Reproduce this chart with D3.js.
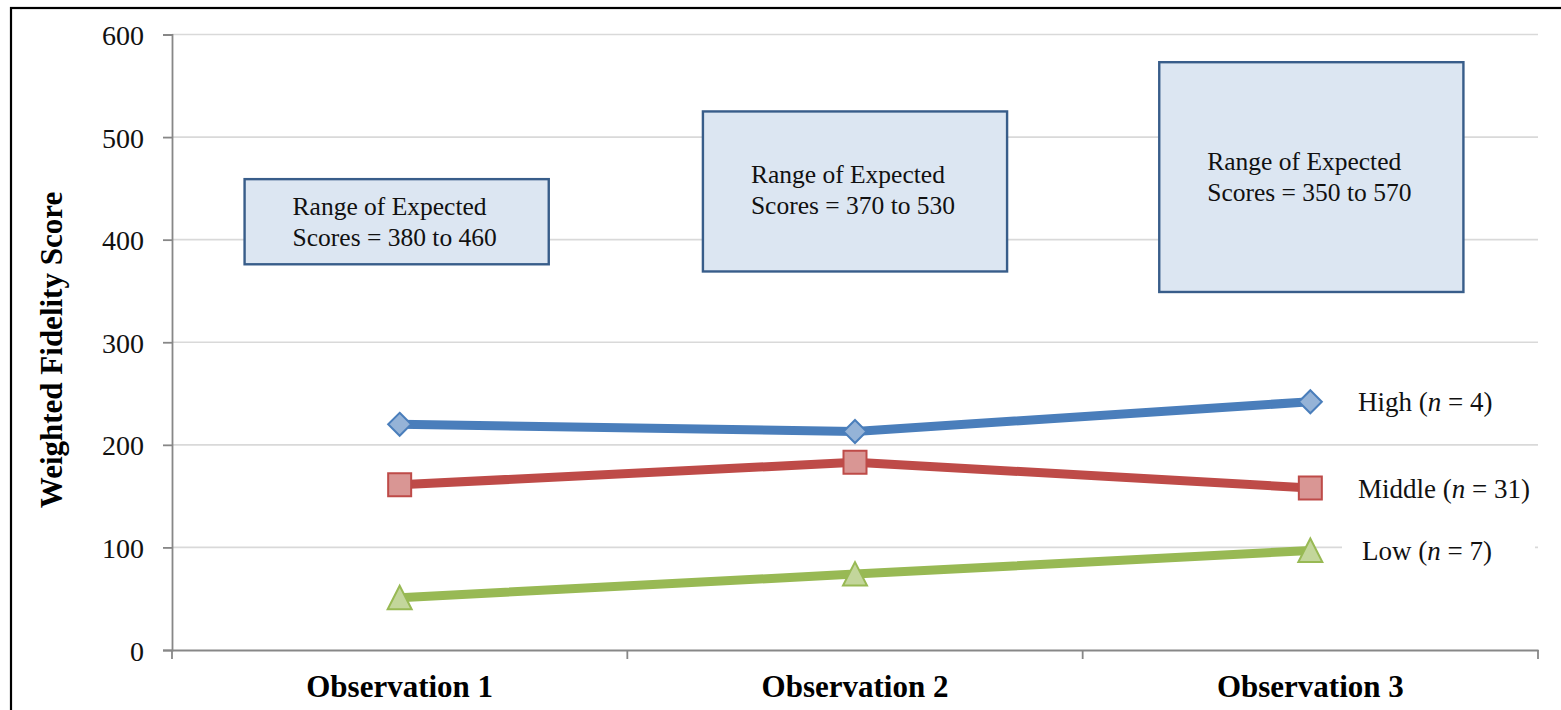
<!DOCTYPE html>
<html>
<head>
<meta charset="utf-8">
<script src="https://cdn.jsdelivr.net/npm/d3@7"></script>
<style>
  html, body { margin: 0; padding: 0; background: #fff; }
  svg { display: block; }
</style>
</head>
<body>
<svg id="chart" width="1561" height="710"></svg>
<script>
// ---- data ----
const categories = ["Observation 1", "Observation 2", "Observation 3"];
const seriesNames = ["High", "Middle", "Low"];
const seriesN = [4, 31, 7];
const highValues = [220, 213, 242];
const middleValues = [161, 183, 158];
const lowValues = [51, 74, 97];
const yTicks = [0, 100, 200, 300, 400, 500, 600];
// expected range (label text)
const expectedLow = [380, 370, 350];
const expectedHigh = [460, 530, 570];
// drawn box extents (in score units)
const boxBottom = [376, 369, 349];
const boxTop = [459, 525, 573];

// ---- layout / style ----
const plot = { left: 172, right: 1538, top: 34.5, bottom: 650 };
const colors = {
  High:   { line: "#4a7ebb", fill: "#95b3d7" },
  Middle: { line: "#be4b48", fill: "#d99694" },
  Low:    { line: "#98b954", fill: "#c3d69b" }
};
const boxTextOffsets = [36, 72, 108];
const boxShift = [-3, 0, 1];
const serif = "'Liberation Serif', 'Times New Roman', serif";

const svg = d3.select("#chart");

// outer frame
svg.append("rect")
  .attr("x", 11).attr("y", 8).attr("width", 1600).attr("height", 800)
  .attr("fill", "#fff").attr("stroke", "#000").attr("stroke-width", 2.2);

const x = d3.scaleBand().domain(categories).range([plot.left, plot.right]).padding(0);
const y = d3.scaleLinear().domain([0, 600]).range([plot.bottom, plot.top]);

// gridlines
svg.append("g")
  .selectAll("line")
  .data(yTicks.filter(d => d > 0))
  .join("line")
  .attr("x1", plot.left).attr("x2", plot.right)
  .attr("y1", d => y(d)).attr("y2", d => y(d))
  .attr("stroke", "#d9d9d9").attr("stroke-width", 1.6);

// Y axis
const yAxis = svg.append("g")
  .attr("transform", `translate(${plot.left},0)`)
  .attr("font-family", serif)
  .call(d3.axisLeft(y).tickValues(yTicks).tickSize(9).tickPadding(19).tickFormat(d3.format("d")));
yAxis.attr("font-family", serif).attr("font-size", 28);
yAxis.select(".domain").attr("stroke", "#878787").attr("stroke-width", 1.8);
yAxis.selectAll(".tick line").attr("stroke", "#878787").attr("stroke-width", 1.8);
yAxis.selectAll(".tick text")
  .attr("font-family", serif).attr("font-size", 28).attr("fill", "#111")
  .attr("dy", "0.36em");

// X axis
const xAxis = svg.append("g")
  .attr("transform", `translate(0,${plot.bottom})`)
  .call(d3.axisBottom(x).tickSize(0).tickPadding(0));
xAxis.select(".domain").attr("stroke", "#878787").attr("stroke-width", 1.8);
xAxis.selectAll(".tick text").remove();
// category boundary ticks
const boundaries = [plot.left].concat(categories.map(c => x(c) + x.bandwidth()));
svg.append("g").selectAll("line")
  .data(boundaries).join("line")
  .attr("x1", d => d).attr("x2", d => d)
  .attr("y1", plot.bottom).attr("y2", plot.bottom + 9)
  .attr("stroke", "#878787").attr("stroke-width", 1.8);
// category labels
svg.append("g").selectAll("text")
  .data(categories).join("text")
  .attr("x", d => x(d) + x.bandwidth() / 2)
  .attr("y", 697)
  .attr("text-anchor", "middle")
  .attr("font-family", serif).attr("font-size", 31).attr("font-weight", "bold")
  .attr("fill", "#000")
  .text(d => d);

// Y axis title
svg.append("text")
  .attr("transform", `translate(62,${350}) rotate(-90)`)
  .attr("text-anchor", "middle")
  .attr("font-family", serif).attr("font-size", 31).attr("font-weight", "bold")
  .attr("fill", "#000")
  .text("Weighted Fidelity Score");

// expected-range boxes
const boxW = x.bandwidth() * 0.668;
const boxes = svg.append("g");
categories.forEach((c, i) => {
  const cx = x(c) + x.bandwidth() / 2 + boxShift[i];
  const bx = cx - boxW / 2;
  const by = y(boxTop[i]);
  boxes.append("rect")
    .attr("x", bx).attr("y", by)
    .attr("width", boxW).attr("height", y(boxBottom[i]) - y(boxTop[i]))
    .attr("fill", "#dce6f2").attr("stroke", "#385d8a").attr("stroke-width", 2.4);
  const t = boxes.append("text")
    .attr("font-family", serif).attr("font-size", 25.5).attr("fill", "#111");
  t.append("tspan").attr("x", bx + 48).attr("y", by + boxTextOffsets[i])
    .text("Range of Expected");
  t.append("tspan").attr("x", bx + 48).attr("y", by + boxTextOffsets[i] + 31)
    .text(`Scores = ${expectedLow[i]} to ${expectedHigh[i]}`);
});

// series
const seriesValues = [highValues, middleValues, lowValues];
const line = d3.line()
  .x((d, i) => x(categories[i]) + x.bandwidth() / 2)
  .y(d => y(d));

const labelX = 1358;

// label backgrounds (cover gridlines)
seriesNames.forEach((name, s) => {
  const vals = seriesValues[s];
  svg.append("rect")
    .attr("x", 1342).attr("y", y(vals[2]) - 18)
    .attr("width", 193).attr("height", 36)
    .attr("fill", "#fff");
});

// marker shapes (bounding-box centred, like the original)
const h = 11.5;
const shapes = {
  High:   `M0,${-h}L${h},0L0,${h}L${-h},0Z`,
  Middle: `M${-h},${-h}L${h},${-h}L${h},${h}L${-h},${h}Z`,
  Low:    `M0,${-h - 0.5}L${h + 0.5},${h}L${-h - 0.5},${h}Z`
};

seriesNames.forEach((name, s) => {
  const vals = seriesValues[s];
  const col = colors[name];
  svg.append("path")
    .datum(vals)
    .attr("d", line)
    .attr("fill", "none")
    .attr("stroke", col.line)
    .attr("stroke-width", 9)
    .attr("stroke-linejoin", "round");

  svg.append("g").selectAll("path")
    .data(vals).join("path")
    .attr("transform", (d, i) => `translate(${x(categories[i]) + x.bandwidth() / 2},${y(d)})`)
    .attr("d", shapes[name])
    .attr("fill", col.fill)
    .attr("stroke", col.line)
    .attr("stroke-width", 2);

  // label
  const lt = svg.append("text")
    .attr("x", labelX + (name === "Low" ? 4 : 0))
    .attr("y", y(vals[2]))
    .attr("dy", "0.36em")
    .attr("font-family", serif).attr("font-size", 27).attr("fill", "#111");
  lt.append("tspan").text(`${name} (`);
  lt.append("tspan").attr("font-style", "italic").text("n");
  lt.append("tspan").text(` = ${seriesN[s]})`);
});
</script>
</body>
</html>
